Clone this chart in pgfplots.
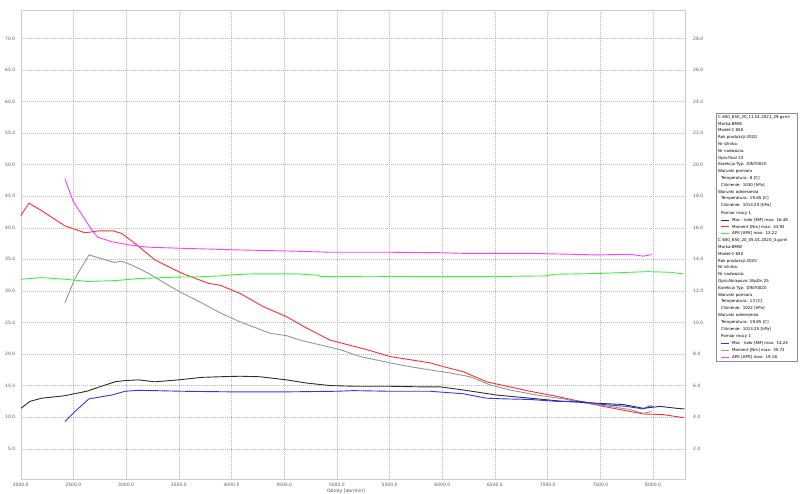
\documentclass[border=0pt]{standalone}
\usepackage{fontspec}
\setmainfont{DejaVu Sans}
\usepackage{pgfplots}
\pgfplotsset{compat=1.18}
\definecolor{cRed}{RGB}{255,45,45}
\definecolor{cGreen}{RGB}{60,240,60}
\definecolor{cMag}{RGB}{255,60,255}
\definecolor{cBlue}{RGB}{50,50,255}
\definecolor{cBlack}{RGB}{45,45,45}
\definecolor{cGray}{RGB}{150,150,150}
\newcommand{\ls}[1]{\textcolor{#1}{\rule[0.4ex]{8pt}{0.7pt}}}
\pgfplotsset{
  myticks/.style={
    tick label style={font=\fontsize{4.5}{5}\selectfont, text=black!65},
    /pgf/number format/fixed,
    /pgf/number format/fixed zerofill,
    /pgf/number format/precision=1,
    /pgf/number format/1000 sep={},
    /pgf/number format/assume math mode=true,
  }
}
\begin{document}
\begin{tikzpicture}[x=1pt,y=1pt]
\useasboundingbox (0,0) rectangle (800,493);
\begin{axis}[
  at={(20.7pt,14pt)}, anchor=south west, scale only axis,
  width=664pt, height=469pt,
  xmin=2000, xmax=8300, ymin=0.2, ymax=74.5,
  xtick={2000,2500,...,8000}, ytick={5,10,...,70},
  grid=major, grid style={dash pattern=on 1pt off 1pt, black!28, line width=0.4pt},
  axis line style={black!20},
  tick style={draw=none},
  myticks,
  xlabel={Obroty [obr/min]},
  xlabel style={font=\fontsize{4.5}{5}\selectfont, text=black!70, at={(axis description cs:0.49,0)}, anchor=north, yshift=-7pt},
  xticklabel style={yshift=-0.5pt},
  yticklabel style={xshift=-2pt},
  every axis plot/.append style={line width=0.9pt},
]
% Moment dataset 1 (red)
\addplot[cRed] coordinates {
(2000,41.9)(2079,43.9)(2199,42.7)(2420,40.3)(2610,39.2)(2736,39.5)(2879,39.5)(2958,39.1)
(3085,37.5)(3274,34.9)(3528,32.8)(3780,31.2)(3891,30.9)(4081,29.6)(4302,27.5)(4524,25.9)
(4714,24.1)(4935,22.2)(5283,20.7)(5504,19.6)(5884,18.6)(6010,18.0)(6200,17.2)(6421,15.6)
(6611,14.9)(6832,14.1)(7085,13.3)(7307,12.5)(7528,11.7)(7718,11.1)(7907,10.5)(8097,10.4)(8296,9.9)
};
% Moment dataset 2 (gray)
\addplot[cGray] coordinates {
(2420,28.1)(2515,32.0)(2648,35.7)(2768,35.1)(2888,34.5)(2958,34.7)(3053,34.1)(3211,32.8)
(3369,31.2)(3528,29.7)(3717,28.1)(3907,26.4)(4081,25.1)(4365,23.3)(4524,22.9)(4650,22.2)
(5030,20.7)(5220,19.6)(5504,18.6)(5725,17.9)(5915,17.4)(6074,17.0)(6263,16.4)(6453,15.1)
(6643,14.3)(6896,13.5)(7148,12.9)(7370,12.2)(7591,11.7)(7781,11.2)(7907,10.6)(7987,10.9)
};
% Moc dataset 1 (black)
\addplot[cBlack] coordinates {
(2003,11.4)(2088,12.5)(2199,13.0)(2420,13.4)(2626,14.1)(2768,14.9)(2895,15.6)(2990,15.8)
(3116,15.9)(3274,15.6)(3496,15.9)(3717,16.3)(3891,16.4)(4081,16.48)(4271,16.4)(4524,15.9)
(4714,15.4)(4935,15.0)(5156,14.9)(5473,14.9)(5789,14.8)(5979,14.8)(6200,14.3)(6516,13.5)
(6832,13.0)(7148,12.5)(7465,12.2)(7718,12.0)(7907,11.4)(8066,11.7)(8224,11.4)(8296,11.3)
};
% Moc dataset 2 (blue)
\addplot[cBlue] coordinates {
(2420,9.3)(2515,10.9)(2648,12.9)(2863,13.5)(2990,14.1)(3116,14.24)(3274,14.2)(3528,14.1)
(4033,14.0)(4500,14.0)(5000,14.1)(5156,14.2)(5500,14.1)(5884,14.1)(6200,13.7)(6421,13.0)
(6579,12.9)(6832,12.8)(7085,12.5)(7307,12.5)(7528,12.0)(7749,11.7)(7907,11.3)(7971,11.8)(7997,11.7)
};
\end{axis}
\begin{axis}[
  at={(20.7pt,14pt)}, anchor=south west, scale only axis,
  width=664pt, height=469pt,
  xmin=2000, xmax=8300, ymin=0.08, ymax=29.8,
  axis x line=none, axis y line*=right,
  ytick={2,4,...,28},
  axis line style={black!20},
  tick style={draw=none},
  myticks,
  yticklabel style={xshift=5pt},
  every axis plot/.append style={line width=0.9pt},
]
% APK dataset 1 (green)
\addplot[cGreen] coordinates {
(2003,12.74)(2199,12.84)(2420,12.74)(2630,12.6)(2895,12.65)(3116,12.78)(3464,12.87)(3717,12.9)
(3891,12.95)(4033,13.03)(4207,13.08)(4619,13.08)(4809,13.0)(4856,12.9)(5316,12.93)(5789,12.9)
(6358,12.9)(6990,12.95)(7053,13.05)(7465,13.1)(7781,13.18)(7950,13.22)(8160,13.18)(8290,13.08)
};
% APK dataset 2 (magenta)
\addplot[cMag] coordinates {
(2420,19.1)(2499,17.65)(2594,16.7)(2674,15.86)(2731,15.4)(2863,15.12)(3021,14.92)(3211,14.77)
(3528,14.7)(3844,14.64)(4033,14.6)(4524,14.53)(4935,14.45)(5473,14.45)(5979,14.42)(6200,14.38)
(6832,14.38)(7465,14.28)(7781,14.32)(7907,14.2)(7987,14.3)
};
\end{axis}
\node[draw=black!45, fill=white, anchor=north west, inner sep=2pt, text width=77pt, align=left,
      font=\fontsize{4}{6.8}\selectfont] at (716,380) {%
C 650\_650\_20\_11.01.2021\_29.gxml\\
Marka:BMW\\
Model:C 650\\
Rok produkcji:2020\\
Nr silnika:\\
Nr nadwozia:\\
Opis:final 23\\
Korekcja Typ: DIN70020\\
Warunki pomiaru\\
\hspace*{3pt}Temperatura: 8 [C]\\
\hspace*{3pt}Ciśnienie: 1030 [hPa]\\
Warunki odniesienia\\
\hspace*{3pt}Temperatura: 19.85 [C]\\
\hspace*{3pt}Ciśnienie: 1013.25 [hPa]\\[1pt]
\hspace*{3pt}Pomiar mocy 1\\
\hspace*{3pt}\ls{cBlack}\hspace{3pt}Moc - koło [KM] max: 16.48\\
\hspace*{3pt}\ls{cRed}\hspace{3pt}Moment [Nm] max: 43.92\\
\hspace*{3pt}\ls{cGreen}\hspace{3pt}APK [APK] max: 13.22\\
C 650\_650\_20\_05.01.2020\_4.gxml\\
Marka:BMW\\
Model:C 650\\
Rok produkcji:2020\\
Nr silnika:\\
Nr nadwozia:\\
Opis:Akrapovic SlipOn 25\\
Korekcja Typ: DIN70020\\
Warunki pomiaru\\
\hspace*{3pt}Temperatura: 13 [C]\\
\hspace*{3pt}Ciśnienie: 1022 [hPa]\\
Warunki odniesienia\\
\hspace*{3pt}Temperatura: 19.85 [C]\\
\hspace*{3pt}Ciśnienie: 1013.25 [hPa]\\[1pt]
\hspace*{3pt}Pomiar mocy 1\\
\hspace*{3pt}\ls{cBlue}\hspace{3pt}Moc - koło [KM] max: 14.24\\
\hspace*{3pt}\ls{cGray}\hspace{3pt}Moment [Nm] max: 35.72\\
\hspace*{3pt}\ls{cMag}\hspace{3pt}APK [APK] max: 19.16};
\end{tikzpicture}
\end{document}
